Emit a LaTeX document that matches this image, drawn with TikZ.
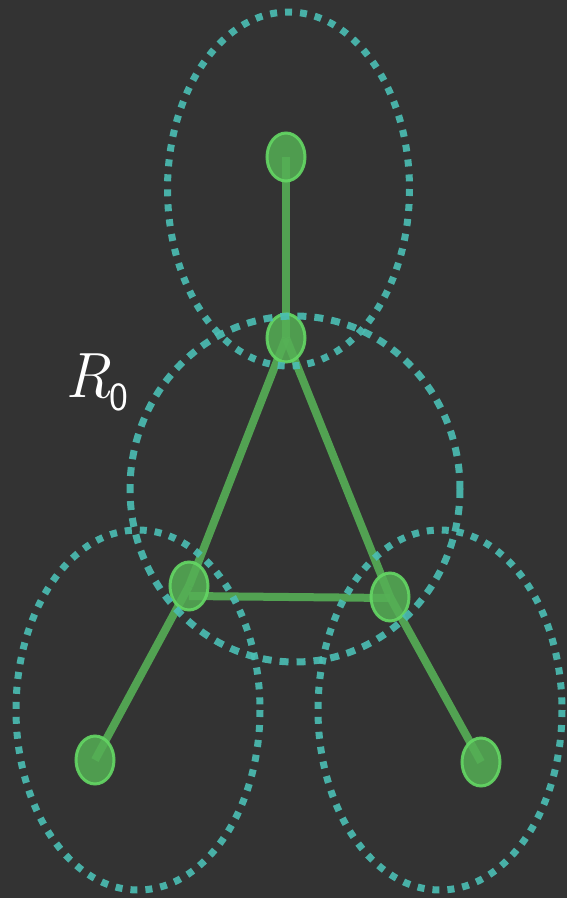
\documentclass[tikz,border=0pt]{standalone}
\usepackage{fontspec}
\usetikzlibrary{shapes.geometric}
\begin{document}
\begin{tikzpicture}[x=1pt,y=-1pt,
  bond/.style={line width=8pt, draw={rgb,255:red,90;green,190;blue,90}, draw opacity=0.8},
  atom/.style={ellipse, minimum width=38pt, minimum height=48pt, inner sep=0pt,
    fill={rgb,255:red,85;green,175;blue,85}, fill opacity=0.85,
    draw={rgb,255:red,100;green,215;blue,100}, line width=3pt, draw opacity=0.9},
  cutoff/.style={line width=7pt, draw={rgb,255:red,75;green,190;blue,180}, draw opacity=0.9,
    dash pattern=on 7pt off 8pt}]
\fill[fill={rgb,255:red,51;green,51;blue,51}] (0,0) rectangle (567,898);
\useasboundingbox (0,0) rectangle (567,898);
% atom positions
\coordinate (pt) at (286,157);
\coordinate (pc) at (286,338);
\coordinate (pl) at (189,586);
\coordinate (pr) at (390,597);
\coordinate (pbl) at (95,760);
\coordinate (pbr) at (481,762);
% bonds
\draw[bond] (pt) -- (pc);
\draw[bond] (pc) -- (pl);
\draw[bond] (pc) -- (pr);
\draw[bond] ([yshift=-10pt]pl) -- ([yshift=-1pt]pr);
\draw[bond] (pl) -- (pbl);
\draw[bond] (pr) -- (pbr);
% atoms
\node[atom] (t) at (pt) {};
\node[atom] (c) at (pc) {};
\node[atom] (l) at (pl) {};
\node[atom] (r) at (pr) {};
\node[atom] (bl) at (pbl) {};
\node[atom] (br) at (pbr) {};
% cutoff ranges
\draw[cutoff] (288.5,189) ellipse [x radius=121, y radius=177];
\draw[cutoff, dash pattern=on 9pt off 8pt] (295,489) ellipse [x radius=165, y radius=173];
\draw[cutoff] (138,710) ellipse [x radius=122, y radius=180];
\draw[cutoff] (440,710) ellipse [x radius=122, y radius=180];
% label
\node[text=white, inner sep=0pt, font=\fontsize{64}{64}\selectfont] (lab) at (97,382)
  {\itshape R\kern-2pt\raisebox{-13pt}{\normalfont\sffamily\fontsize{40}{40}\selectfont 0}};
\end{tikzpicture}
\end{document}
